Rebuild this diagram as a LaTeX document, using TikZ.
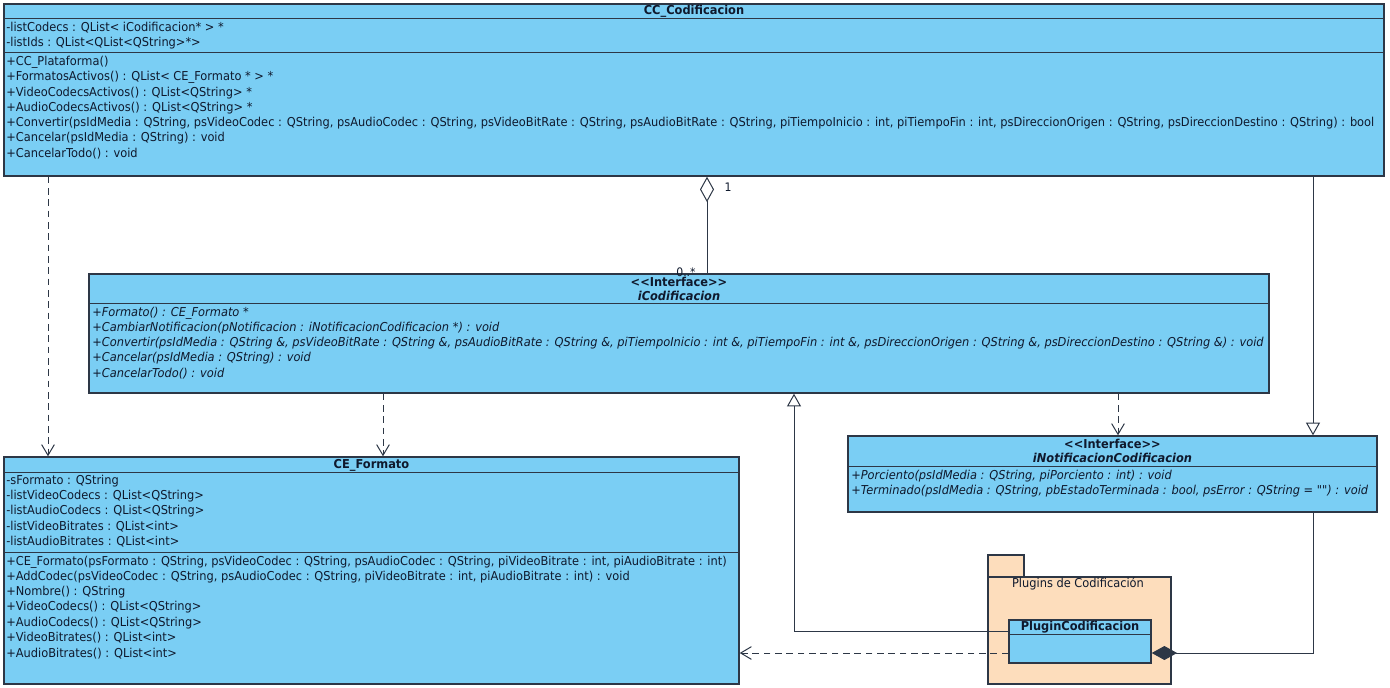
\documentclass[tikz,border=0pt]{standalone}
\usepackage{fontspec}
\setmainfont{DejaVu Sans}[FakeStretch=0.93,Ligatures=TeXOff]
\usetikzlibrary{arrows.meta,positioning,calc,fit}
\usepackage{xcolor}
\definecolor{clsblue}{RGB}{122,206,244}
\definecolor{pkgpeach}{RGB}{253,221,188}
\definecolor{edgec}{RGB}{45,55,70}
\definecolor{txtc}{RGB}{15,25,45}
\newcommand{\stereo}{<{}<Interface>{}>}

\begin{document}
\begin{tikzpicture}[x=0.75pt,y=-0.75pt,
  box/.style={draw=edgec,fill=clsblue,line width=1.1pt,inner sep=0pt},
  pkg/.style={draw=edgec,fill=pkgpeach,line width=1pt,inner sep=0pt},
  sep/.style={draw=edgec,line width=1pt},
  mem/.style={anchor=west,inner sep=0pt,text=txtc,font=\fontsize{9.2}{10}\selectfont},
  imem/.style={mem,font=\fontsize{9.2}{10}\selectfont\itshape},
  ttl/.style={inner sep=0pt,text=txtc,font=\fontsize{9.2}{10}\selectfont\bfseries},
  mult/.style={inner sep=0pt,text=txtc,font=\fontsize{8.8}{9}\selectfont},
  dep/.style={draw=edgec,line width=0.75pt,dash pattern=on 5pt off 3.5pt,
    -{Straight Barb[length=8pt,width=9.5pt]}},
  gen/.style={draw=edgec,line width=0.75pt,-{Triangle[open,length=9.5pt,width=10.5pt]}},
  agg/.style={draw=edgec,line width=0.75pt,{Diamond[open,length=19pt,width=10.5pt]}-},
  comp/.style={draw=edgec,line width=0.75pt,{Diamond[length=19pt,width=10.5pt]}-}]
  \useasboundingbox (0,0) rectangle (1390,687);

  % CC_Codificacion
  \node[box,fit={(4,4) (1384,176)}] (cc) {};
  \draw[sep] ($(cc.north west)+(0,15)$) -- ($(cc.north east)+(0,15)$);
  \draw[sep] ($(cc.north west)+(0,49)$) -- ($(cc.north east)+(0,49)$);
  \node[ttl] (cct) at (694,11.5) {CC\_Codificacion};
  \foreach \t [count=\i] in {{-listCodecs : QList< iCodificacion* > *},
      {-listIds : QList<QList<QString>*>}}
    \node[mem] (cca\i) at (6,12.3+15.2*\i) {\t};
  \foreach \t [count=\i] in {{+CC\_Plataforma()},
      {+FormatosActivos() : QList< CE\_Formato * > *},
      {+VideoCodecsActivos() : QList<QString> *},
      {+AudioCodecsActivos() : QList<QString> *},
      {+Convertir(psIdMedia : QString, psVideoCodec : QString, psAudioCodec : QString, psVideoBitRate : QString, psAudioBitRate : QString, piTiempoInicio : int, piTiempoFin : int, psDireccionOrigen : QString, psDireccionDestino : QString) : bool},
      {+Cancelar(psIdMedia : QString) : void},
      {+CancelarTodo() : void}}
    \node[mem] (ccm\i) at (6,47.3+15.2*\i) {\t};

  % iCodificacion
  \node[box,fit={(89,274) (1269,393)}] (ic) {};
  \draw[sep] ($(ic.north west)+(0,30)$) -- ($(ic.north east)+(0,30)$);
  \node[ttl] (icst) at (679,282) {\stereo};
  \node[ttl,font=\fontsize{9.2}{10}\selectfont\bfseries\itshape] (icn) at (679,296) {iCodificacion};
  \foreach \t [count=\i] in {{+Formato() : CE\_Formato *},
      {+CambiarNotificacion(pNotificacion : iNotificacionCodificacion *) : void},
      {+Convertir(psIdMedia : QString \&, psVideoBitRate : QString \&, psAudioBitRate : QString \&, piTiempoInicio : int \&, piTiempoFin : int \&, psDireccionOrigen : QString \&, psDireccionDestino : QString \&) : void},
      {+Cancelar(psIdMedia : QString) : void},
      {+CancelarTodo() : void}}
    \node[imem] (icm\i) at (92,297.8+15.2*\i) {\t};

  % CE_Formato
  \node[box,fit={(4,457) (739,684)}] (ce) {};
  \draw[sep] ($(ce.north west)+(0,16)$) -- ($(ce.north east)+(0,16)$);
  \draw[sep] ($(ce.north west)+(0,96)$) -- ($(ce.north east)+(0,96)$);
  \node[ttl] (cet) at (371.5,465) {CE\_Formato};
  \foreach \t [count=\i] in {{-sFormato : QString},
      {-listVideoCodecs : QList<QString>},
      {-listAudioCodecs : QList<QString>},
      {-listVideoBitrates : QList<int>},
      {-listAudioBitrates : QList<int>}}
    \node[mem] (cea\i) at (6,465.8+15.2*\i) {\t};
  \foreach \t [count=\i] in {{+CE\_Formato(psFormato : QString, psVideoCodec : QString, psAudioCodec : QString, piVideoBitrate : int, piAudioBitrate : int)},
      {+AddCodec(psVideoCodec : QString, psAudioCodec : QString, piVideoBitrate : int, piAudioBitrate : int) : void},
      {+Nombre() : QString},
      {+VideoCodecs() : QList<QString>},
      {+AudioCodecs() : QList<QString>},
      {+VideoBitrates() : QList<int>},
      {+AudioBitrates() : QList<int>}}
    \node[mem] (cem\i) at (6,546.8+15.2*\i) {\t};

  % iNotificacionCodificacion
  \node[box,fit={(848,436) (1377,512)}] (in) {};
  \draw[sep] ($(in.north west)+(0,31)$) -- ($(in.north east)+(0,31)$);
  \node[ttl] (inst) at (1112.5,444) {\stereo};
  \node[ttl,font=\fontsize{9.2}{10}\selectfont\bfseries\itshape] (inn) at (1112.5,458) {iNotificacionCodificacion};
  \foreach \t [count=\i] in {{+Porciento(psIdMedia : QString, piPorciento : int) : void},
      {+Terminado(psIdMedia : QString, pbEstadoTerminada : bool, psError : QString = "") : void}}
    \node[imem] (inm\i) at (851,460.8+15.2*\i) {\t};

  % Plugins de Codificacion
  \node[pkg,fit={(988,555) (1024,577)}] (pkgtab) {};
  \node[pkg,fit={(988,577) (1171,684)}] (pkg) {};
  \node[mult,font=\fontsize{9.2}{10}\selectfont] (pkgl) at (1078,584) {Plugins de Codificación};
  \node[box,fit={(1009,620) (1151,663)}] (pc) {};
  \draw[sep] ($(pc.north west)+(0,15)$) -- ($(pc.north east)+(0,15)$);
  \node[ttl] (pct) at (1080,627.5) {PluginCodificacion};

  % conectores
  \coordinate (depcc) at (48,0);
  \coordinate (depic) at (383,0);
  \coordinate (depin) at (1118,0);
  \coordinate (gencc) at (1313,0);
  \coordinate (aggcc) at (707,0);
  \coordinate (genpc) at (794,0);
  \coordinate (pcgen) at (0,631);
  \coordinate (pcdep) at (0,653);
  \draw[dep] (cc.south -| depcc) -- (ce.north -| depcc);
  \draw[dep] (ic.south -| depic) -- (ce.north -| depic);
  \draw[dep] (ic.south -| depin) -- (in.north -| depin);
  \draw[gen] (cc.south -| gencc) -- (in.north -| gencc);
  \draw[agg] (cc.south -| aggcc) -- (ic.north -| aggcc);
  \node[mult] (m1) at (728,187) {1};
  \node[mult] (m0) at (686,272) {0..*};
  \draw[gen] (pc.west |- pcgen) -| (ic.south -| genpc);
  \draw[dep] (pc.west |- pcdep) -- (ce.east |- pcdep);
  \draw[comp] (pc.east |- pcdep) -| (in.south -| gencc);
\end{tikzpicture}
\end{document}
